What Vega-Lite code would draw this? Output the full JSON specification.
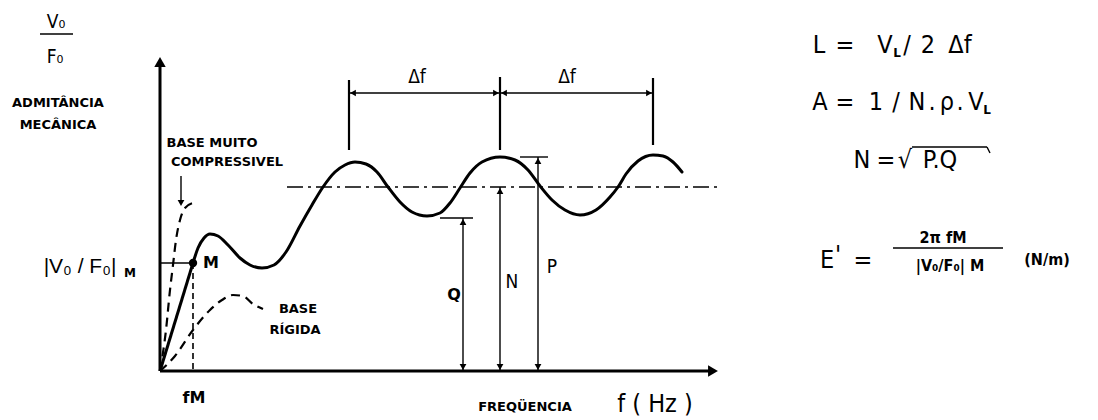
{
  "$schema": "https://vega.github.io/schema/vega-lite/v6.json",
  "width": 1098,
  "height": 420,
  "autosize": {"type": "fit", "contains": "padding"},
  "padding": 0,
  "background": "white",
  "config": {"view": {"stroke": null}},
  "datasets": {
    "curva": [
      {"f": 33, "a": 108}, {"f": 38, "a": 123}, {"f": 44, "a": 133}, {"f": 50, "a": 137},
      {"f": 58, "a": 135}, {"f": 68, "a": 126}, {"f": 80, "a": 113}, {"f": 90, "a": 106},
      {"f": 102, "a": 103}, {"f": 114, "a": 106}, {"f": 126, "a": 119}, {"f": 140, "a": 145},
      {"f": 152, "a": 166}, {"f": 163, "a": 184}, {"f": 175, "a": 199}, {"f": 185, "a": 206},
      {"f": 195, "a": 209}, {"f": 206, "a": 207}, {"f": 217, "a": 199}, {"f": 228, "a": 184},
      {"f": 240, "a": 169}, {"f": 252, "a": 159}, {"f": 267, "a": 155}, {"f": 280, "a": 158},
      {"f": 290, "a": 168}, {"f": 300, "a": 183}, {"f": 310, "a": 198}, {"f": 322, "a": 209},
      {"f": 340, "a": 214}, {"f": 355, "a": 211}, {"f": 368, "a": 201}, {"f": 380, "a": 185},
      {"f": 392, "a": 171}, {"f": 405, "a": 161}, {"f": 420, "a": 156}, {"f": 436, "a": 161},
      {"f": 450, "a": 174}, {"f": 458, "a": 184}, {"f": 466, "a": 197}, {"f": 478, "a": 210},
      {"f": 493, "a": 216}, {"f": 503, "a": 215}, {"f": 513, "a": 209}, {"f": 522, "a": 199}
    ],
    "rigida": [
      {"f": 0, "a": 0}, {"f": 15, "a": 15}, {"f": 33, "a": 41}, {"f": 50, "a": 61},
      {"f": 62, "a": 71}, {"f": 73, "a": 76}, {"f": 83, "a": 75}, {"f": 93, "a": 67},
      {"f": 103, "a": 62}
    ],
    "compressivel": [
      {"f": 0, "a": 0}, {"f": 6, "a": 41}, {"f": 10, "a": 81}, {"f": 13, "a": 106},
      {"f": 16, "a": 131}, {"f": 20, "a": 151}, {"f": 25, "a": 163}, {"f": 33, "a": 168}
    ],
    "eixos": [
      {"f": 0, "a": 0, "f2": 552, "a2": 0},
      {"f": 0, "a": 0, "f2": 0, "a2": 306},
      {"f": 0, "a": 0, "f2": 33, "a2": 108}
    ],
    "pontas_eixos": [
      {"f": 553, "a": 0, "ponta": "direita"},
      {"f": 0, "a": 309, "ponta": "cima"}
    ],
    "guias": [
      {"f": 0, "a": 108, "f2": 33, "a2": 108},
      {"f": 189, "a": 278, "f2": 340, "a2": 278},
      {"f": 340, "a": 278, "f2": 493, "a2": 278},
      {"f": 303, "a": 0, "f2": 303, "a2": 153},
      {"f": 280, "a": 153, "f2": 313, "a2": 153},
      {"f": 340, "a": 0, "f2": 340, "a2": 184},
      {"f": 378, "a": 0, "f2": 378, "a2": 214},
      {"f": 360, "a": 214, "f2": 388, "a2": 214},
      {"f": 21, "a": 195, "f2": 21, "a2": 170},
      {"f": 752, "a": 224, "f2": 827, "a2": 224},
      {"f": 827, "a": 224, "f2": 830, "a2": 218},
      {"f": 733, "a": 123, "f2": 843, "a2": 123},
      {"f": -120, "a": 337, "f2": -87, "a2": 337}
    ],
    "cotas": [
      {"f": 189, "a": 221, "f2": 189, "a2": 291},
      {"f": 340, "a": 221, "f2": 340, "a2": 294},
      {"f": 493, "a": 226, "f2": 493, "a2": 293}
    ],
    "tracejado": [{"f": 33, "a": 108, "f2": 33, "a2": 0}],
    "traco_ponto": [{"f": 127, "a": 184, "f2": 560, "a2": 184}],
    "pontas_cotas": [
      {"f": 193, "a": 278, "ponta": "esquerda"},
      {"f": 336, "a": 278, "ponta": "direita"},
      {"f": 344, "a": 278, "ponta": "esquerda"},
      {"f": 489, "a": 278, "ponta": "direita"},
      {"f": 303, "a": 149, "ponta": "cima"},
      {"f": 303, "a": 4, "ponta": "baixo"},
      {"f": 340, "a": 180, "ponta": "cima"},
      {"f": 340, "a": 4, "ponta": "baixo"},
      {"f": 378, "a": 210, "ponta": "cima"},
      {"f": 378, "a": 4, "ponta": "baixo"},
      {"f": 21, "a": 168, "ponta": "baixo"}
    ],
    "ponto_m": [{"f": 33, "a": 108}],
    "rotulos_negrito": [
      {"f": -102, "a": 268, "texto": "ADMITÂNCIA"},
      {"f": -102, "a": 246, "texto": "MECÂNICA"},
      {"f": 52, "a": 228, "texto": "BASE MUITO"},
      {"f": 67, "a": 209, "texto": "COMPRESSIVEL"},
      {"f": 138, "a": 62, "texto": "BASE"},
      {"f": 135, "a": 41, "texto": "RÍGIDA"},
      {"f": 365, "a": -36, "texto": "FREQÜENCIA"}
    ],
    "letras_negrito": [
      {"f": 51, "a": 108, "texto": "M"},
      {"f": 34, "a": -27, "texto": "fM"},
      {"f": 294, "a": 76, "texto": "Q"}
    ],
    "letras": [
      {"f": 352, "a": 89, "texto": "N"},
      {"f": 392, "a": 104, "texto": "P"},
      {"f": 257, "a": 294, "texto": "Δf"},
      {"f": 407, "a": 294, "texto": "Δf"},
      {"f": -104, "a": 349, "texto": "V₀"},
      {"f": -105, "a": 314, "texto": "F₀"}
    ],
    "rotulo_admitancia_m": [
      {"f": -80, "a": 104, "texto": "|V₀ / F₀|"}
    ],
    "formula": [
      {"f": 659, "a": 326, "texto": "L"},
      {"f": 685, "a": 326, "texto": "="},
      {"f": 725, "a": 326, "texto": "V"},
      {"f": 747, "a": 326, "texto": "/"},
      {"f": 768, "a": 326, "texto": "2"},
      {"f": 800, "a": 326, "texto": "Δf"},
      {"f": 660, "a": 269, "texto": "A"},
      {"f": 685, "a": 269, "texto": "="},
      {"f": 716, "a": 269, "texto": "1"},
      {"f": 736, "a": 269, "texto": "/"},
      {"f": 757, "a": 269, "texto": "N"},
      {"f": 772, "a": 269, "texto": "."},
      {"f": 787, "a": 269, "texto": "ρ"},
      {"f": 800, "a": 269, "texto": "."},
      {"f": 816, "a": 269, "texto": "V"},
      {"f": 702, "a": 211, "texto": "N"},
      {"f": 726, "a": 211, "texto": "="},
      {"f": 745, "a": 211, "texto": "√"},
      {"f": 780, "a": 211, "texto": "P.Q"},
      {"f": 667, "a": 111, "texto": "E"},
      {"f": 678, "a": 116, "texto": "'"},
      {"f": 703, "a": 111, "texto": "="},
      {"f": 495, "a": -33, "texto": "f ( Hz )"}
    ],
    "formula_pequena": [
      {"f": 783, "a": 133, "texto": "2π  fM"},
      {"f": 790, "a": 105, "texto": "|V₀/F₀| M"},
      {"f": 887, "a": 111, "texto": "(N/m)"}
    ],
    "indices": [
      {"f": 737, "a": 318, "texto": "L"},
      {"f": 827, "a": 261, "texto": "L"},
      {"f": -30, "a": 98, "texto": "M"}
    ]
  },
  "encoding": {
    "x": {"field": "f", "type": "quantitative", "axis": null,
          "scale": {"domain": [-160, 938], "nice": false, "zero": false}},
    "y": {"field": "a", "type": "quantitative", "axis": null,
          "scale": {"domain": [-49, 371], "nice": false, "zero": false}}
  },
  "layer": [
    {
      "data": {"name": "curva"},
      "mark": {"type": "line", "color": "black", "strokeWidth": 3, "interpolate": "monotone", "strokeCap": "round"},
      "encoding": {}
    },
    {
      "data": {"name": "rigida"},
      "mark": {"type": "line", "color": "black", "strokeWidth": 2.2, "interpolate": "monotone", "strokeDash": [9, 6]},
      "encoding": {}
    },
    {
      "data": {"name": "compressivel"},
      "mark": {"type": "line", "color": "black", "strokeWidth": 2.2, "interpolate": "monotone", "strokeDash": [9, 6]},
      "encoding": {}
    },
    {
      "data": {"name": "eixos"},
      "mark": {"type": "rule", "color": "black", "strokeWidth": 3},
      "encoding": {"x2": {"field": "f2"}, "y2": {"field": "a2"}}
    },
    {
      "data": {"name": "guias"},
      "mark": {"type": "rule", "color": "black", "strokeWidth": 1.4},
      "encoding": {"x2": {"field": "f2"}, "y2": {"field": "a2"}}
    },
    {
      "data": {"name": "cotas"},
      "mark": {"type": "rule", "color": "black", "strokeWidth": 2.2},
      "encoding": {"x2": {"field": "f2"}, "y2": {"field": "a2"}}
    },
    {
      "data": {"name": "tracejado"},
      "mark": {"type": "rule", "color": "black", "strokeWidth": 1.6, "strokeDash": [6, 4]},
      "encoding": {"x2": {"field": "f2"}, "y2": {"field": "a2"}}
    },
    {
      "data": {"name": "traco_ponto"},
      "mark": {"type": "rule", "color": "black", "strokeWidth": 1.4, "strokeDash": [16, 5, 3, 5]},
      "encoding": {"x2": {"field": "f2"}, "y2": {"field": "a2"}}
    },
    {
      "data": {"name": "pontas_eixos"},
      "mark": {"type": "point", "filled": true, "color": "black", "size": 130, "opacity": 1},
      "encoding": {
        "shape": {"field": "ponta", "type": "nominal", "legend": null,
                  "scale": {"domain": ["cima", "baixo", "esquerda", "direita"],
                            "range": ["triangle-up", "triangle-down", "triangle-left", "triangle-right"]}}
      }
    },
    {
      "data": {"name": "pontas_cotas"},
      "mark": {"type": "point", "filled": true, "color": "black", "size": 45, "opacity": 1},
      "encoding": {
        "shape": {"field": "ponta", "type": "nominal", "legend": null,
                  "scale": {"domain": ["cima", "baixo", "esquerda", "direita"],
                            "range": ["triangle-up", "triangle-down", "triangle-left", "triangle-right"]}}
      }
    },
    {
      "data": {"name": "ponto_m"},
      "mark": {"type": "circle", "color": "black", "size": 70, "opacity": 1},
      "encoding": {}
    },
    {
      "data": {"name": "rotulos_negrito"},
      "mark": {"type": "text", "font": "DejaVu Sans", "fontWeight": "bold", "fontSize": 13, "color": "black", "baseline": "middle", "align": "center"},
      "encoding": {"text": {"field": "texto"}}
    },
    {
      "data": {"name": "letras_negrito"},
      "mark": {"type": "text", "font": "DejaVu Sans", "fontWeight": "bold", "fontSize": 16, "color": "black", "baseline": "middle", "align": "center"},
      "encoding": {"text": {"field": "texto"}}
    },
    {
      "data": {"name": "letras"},
      "mark": {"type": "text", "font": "Liberation Sans Narrow, DejaVu Sans Condensed, Liberation Sans, sans-serif", "fontSize": 19, "color": "black", "baseline": "middle", "align": "center"},
      "encoding": {"text": {"field": "texto"}}
    },
    {
      "data": {"name": "rotulo_admitancia_m"},
      "mark": {"type": "text", "font": "Liberation Sans, sans-serif", "fontSize": 21, "color": "black", "baseline": "middle", "align": "center"},
      "encoding": {"text": {"field": "texto"}}
    },
    {
      "data": {"name": "formula"},
      "mark": {"type": "text", "font": "Liberation Sans Narrow, DejaVu Sans Condensed, Liberation Sans, sans-serif", "fontSize": 25, "color": "black", "baseline": "middle", "align": "center"},
      "encoding": {"text": {"field": "texto"}}
    },
    {
      "data": {"name": "formula_pequena"},
      "mark": {"type": "text", "font": "Liberation Sans Narrow, DejaVu Sans Condensed, Liberation Sans, sans-serif", "fontSize": 16, "fontWeight": "bold", "color": "black", "baseline": "middle", "align": "center"},
      "encoding": {"text": {"field": "texto"}}
    },
    {
      "data": {"name": "indices"},
      "mark": {"type": "text", "font": "DejaVu Sans", "fontWeight": "bold", "fontSize": 12, "color": "black", "baseline": "middle", "align": "center"},
      "encoding": {"text": {"field": "texto"}}
    }
  ]
}
